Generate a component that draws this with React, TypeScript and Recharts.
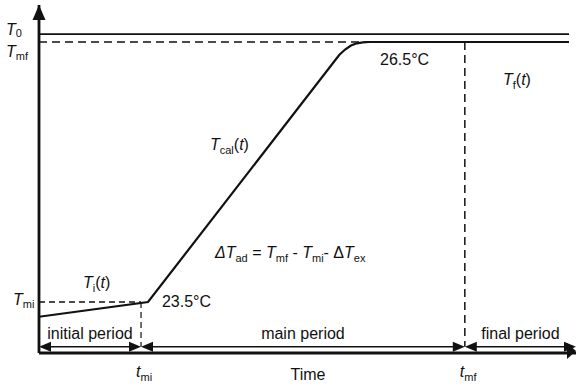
import { ComposedChart, Line, XAxis, YAxis, ReferenceLine, ReferenceDot } from "recharts";

// schematic calorimeter temperature curve (time in arbitrary units, temperature in °C)
const TIME_DOMAIN = [0, 100];
const TEMP_DOMAIN = [22.912, 26.927];

const tempCurve = [
  { t: 0, T: 23.33 },
  { t: 20.3, T: 23.5 },
  { t: 55.9, T: 26.35 },
  { t: 57.0, T: 26.413 },
  { t: 58.1, T: 26.46 },
  { t: 59.2, T: 26.485 },
  { t: 60.3, T: 26.496 },
  { t: 61.5, T: 26.5 },
  { t: 98.7, T: 26.5 },
];
const startTemp = [
  { t: 0, T: 26.592 },
  { t: 98.7, T: 26.592 },
];

const T_MI = 23.5;
const T_MF = 26.5;
const T_0 = 26.592;
const t_mi = 19;
const t_mf = 79.3;
const ARROW_T = 22.984;

const yTicks = [T_MI, T_MF, T_0];
const xTicks = [t_mi, t_mf];
const yTickLabels = { [T_MI]: "mi", [T_MF]: "mf", [T_0]: "0" };
const xTickLabels = { [t_mi]: "mi", [t_mf]: "mf" };
const periods = [
  { from: 0, to: t_mi, name: "initial period" },
  { from: t_mi, to: t_mf, name: "main period" },
  { from: t_mf, to: 100, name: "final period" },
];

const FONT = "'Liberation Sans', Arial, Helvetica, sans-serif";
const INK = "#111";

type Part = { s: string; it?: boolean; sub?: boolean };

// render text pieces with italics and subscripts as tspans
function rich(parts: Part[]) {
  let level = 0;
  return parts.map((p, i) => {
    const target = p.sub ? 4 : 0;
    const dy = target - level;
    level = target;
    return (
      <tspan
        key={i}
        dy={dy || undefined}
        fontSize={p.sub ? 11 : undefined}
        fontStyle={p.it ? "italic" : undefined}
      >
        {p.s}
      </tspan>
    );
  });
}

function YTick({ y, payload }: any) {
  const v = payload.value;
  const x = v === T_MI ? 13 : 6;
  const dy = v === T_0 ? 1 : v === T_MF ? 15 : 3;
  return (
    <text x={x} y={y + dy} fontSize={16} fontFamily={FONT} fill={INK}>
      <tspan fontStyle="italic">T</tspan>
      <tspan fontSize={11} dy={v === T_0 ? 2 : 3}>{yTickLabels[v]}</tspan>
    </text>
  );
}

function XTick({ x, payload }: any) {
  return (
    <text x={x - 5} y={377} fontSize={16} fontFamily={FONT} fill={INK}>
      <tspan fontStyle="italic">t</tspan>
      <tspan fontSize={11} dy={4}>{xTickLabels[payload.value]}</tspan>
    </text>
  );
}

function DoubleArrow(props: any) {
  const { x1, y1, x2 } = props;
  const y = y1;
  return (
    <g>
      <line x1={x1 + 4} y1={y} x2={x2 - 4} y2={y} stroke={INK} strokeWidth={1.5} />
      <polygon points={`${x1},${y} ${x1 + 12},${y - 5} ${x1 + 12},${y + 5}`} fill={INK} />
      <polygon points={`${x2},${y} ${x2 - 12},${y - 5} ${x2 - 12},${y + 5}`} fill={INK} />
    </g>
  );
}

function note(key: string, t: number, T: number, anchor: string, content: any) {
  return (
    <ReferenceDot
      key={key}
      x={t}
      y={T}
      r={0}
      ifOverflow="visible"
      shape={(p: any) => (
        <text x={p.cx} y={p.cy} textAnchor={anchor} fontSize={16} fontFamily={FONT} fill={INK}>
          {content}
        </text>
      )}
    />
  );
}

export default function App() {
  return (
    <div style={{ position: "absolute", left: 0, top: 0, background: "#fff" }}>
      <ComposedChart width={576} height={387} margin={{ top: 5, right: 0, bottom: 0, left: 0 }}>
        <XAxis
          type="number"
          dataKey="t"
          domain={TIME_DOMAIN}
          ticks={xTicks}
          interval={0}
          tick={<XTick />}
          tickLine={false}
          axisLine={{ stroke: INK, strokeWidth: 2.8 }}
          height={34}
          allowDataOverflow
        />
        <YAxis
          type="number"
          dataKey="T"
          domain={TEMP_DOMAIN}
          ticks={yTicks}
          interval={0}
          tick={<YTick />}
          tickLine={false}
          axisLine={{ stroke: INK, strokeWidth: 2.8 }}
          width={39}
          allowDataOverflow
        />

        <ReferenceLine segment={[{ x: 0, y: T_MF }, { x: 64.8, y: T_MF }]} stroke={INK} strokeWidth={1.5} strokeDasharray="8 5" />
        <ReferenceLine segment={[{ x: 0, y: T_MI }, { x: t_mi, y: T_MI }]} stroke={INK} strokeWidth={1.5} strokeDasharray="6 4" />
        <ReferenceLine segment={[{ x: t_mi, y: T_MI }, { x: t_mi, y: ARROW_T }]} stroke={INK} strokeWidth={1.2} strokeDasharray="6 4" />
        <ReferenceLine segment={[{ x: t_mf, y: T_MF }, { x: t_mf, y: ARROW_T }]} stroke={INK} strokeWidth={1.5} strokeDasharray="8 5" />

        <Line data={startTemp} dataKey="T" type="linear" stroke={INK} strokeWidth={1.8} dot={false} activeDot={false} isAnimationActive={false} />
        <Line data={tempCurve} dataKey="T" type="linear" stroke={INK} strokeWidth={2.2} dot={false} activeDot={false} isAnimationActive={false} />

        {periods.map((p) => (
          <ReferenceLine
            key={p.name}
            segment={[{ x: p.from, y: ARROW_T }, { x: p.to, y: ARROW_T }]}
            shape={<DoubleArrow />}
          />
        ))}
        {periods.map((p) =>
          note(p.name, (p.from + p.to) / 2, 23.073, "middle", p.name)
        )}

        <ReferenceDot
          x={0}
          y={TEMP_DOMAIN[1]}
          r={0}
          ifOverflow="visible"
          shape={(p: any) => (
            <polygon points={`${p.cx},${p.cy} ${p.cx - 6.5},${p.cy + 15} ${p.cx + 6.5},${p.cy + 15}`} fill={INK} />
          )}
        />
        <ReferenceDot
          x={100}
          y={TEMP_DOMAIN[0]}
          r={0}
          ifOverflow="visible"
          shape={(p: any) => (
            <polygon points={`${p.cx},${p.cy - 2} ${p.cx - 9},${p.cy - 10} ${p.cx - 9},${p.cy + 6}`} fill={INK} />
          )}
        />

        {note("Ti", 8.19, 23.662, "start", rich([
          { s: "T", it: true }, { s: "i", sub: true }, { s: "(" }, { s: "t", it: true }, { s: ")" },
        ]))}
        {note("c235", 22.9, 23.442, "start", "23.5°C")}
        {note("c265", 63.5, 26.235, "start", "26.5°C")}
        {note("Tf", 86.4, 26.004, "start", rich([
          { s: "T", it: true }, { s: "f", sub: true }, { s: "(" }, { s: "t", it: true }, { s: ")" },
        ]))}
        {note("Tcal", 31.84, 25.254, "start", rich([
          { s: "T", it: true }, { s: "cal", sub: true }, { s: "(" }, { s: "t", it: true }, { s: ")" },
        ]))}
        {note("dT", 32.77, 24.008, "start", rich([
          { s: "ΔT", it: true }, { s: "ad", sub: true }, { s: " = " },
          { s: "T", it: true }, { s: "mf", sub: true }, { s: " - " },
          { s: "T", it: true }, { s: "mi", sub: true }, { s: "- Δ" },
          { s: "T", it: true }, { s: "ex", sub: true },
        ]))}
        {note("time", 50.1, 22.6, "middle", "Time")}
      </ComposedChart>
    </div>
  );
}
